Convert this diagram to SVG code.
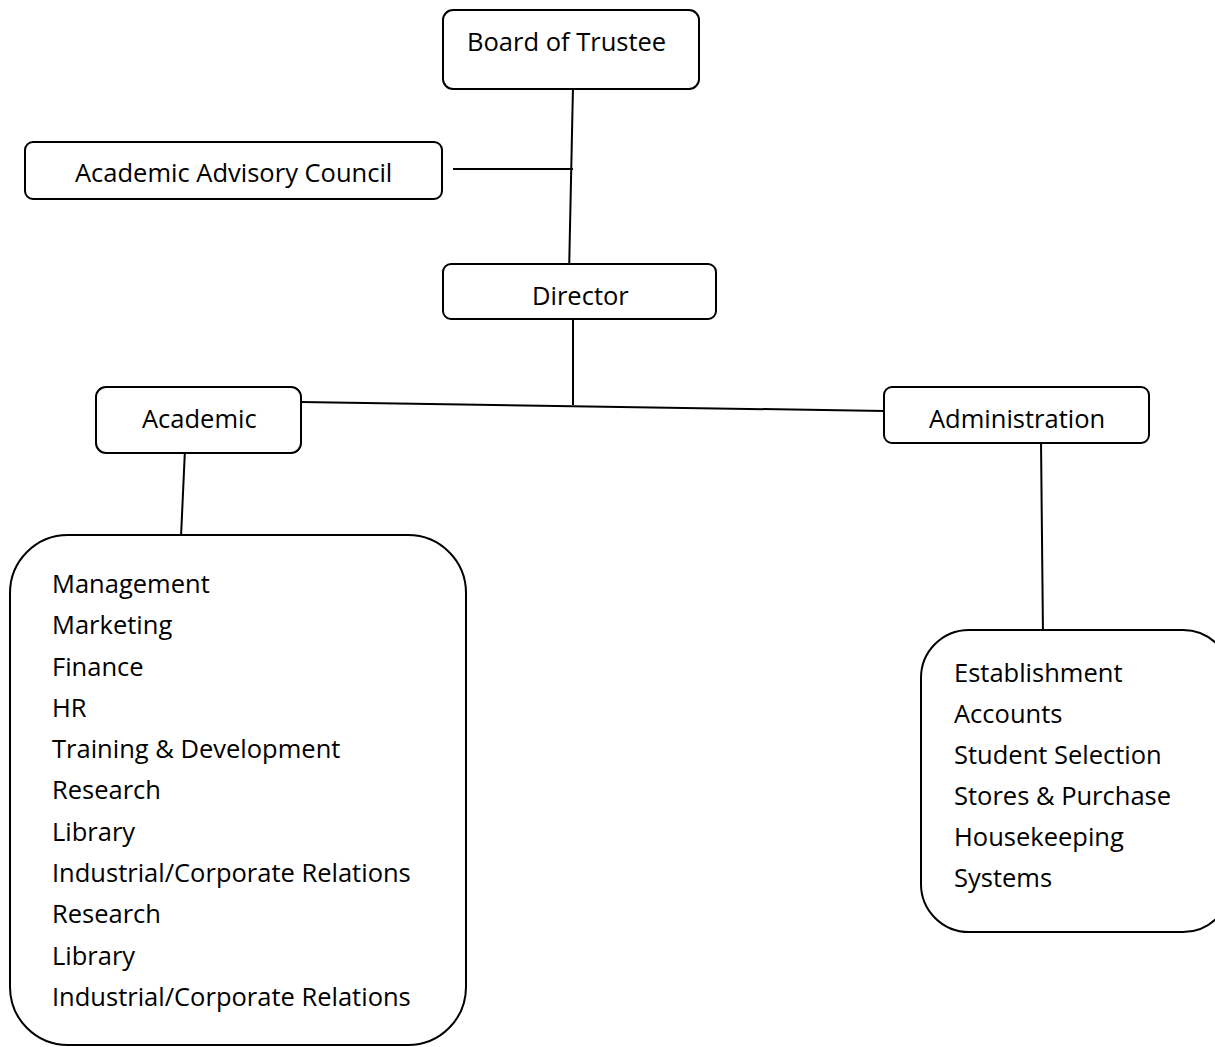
<svg xmlns="http://www.w3.org/2000/svg" width="1215" height="1047" viewBox="0 0 1215 1047">
<style>
.box{fill:#fff;stroke:#000;stroke-width:2}
.ln{stroke:#000;stroke-width:2;fill:none}
text{font-family:"Open Sans","Liberation Sans",sans-serif;font-size:25.5px;fill:#000}
</style>
<rect width="1215" height="1047" fill="#fff"/>
<g id="connectors">
<line class="ln" x1="573" y1="86" x2="569" y2="275"/>
<line class="ln" x1="453" y1="169" x2="573" y2="169"/>
<line class="ln" x1="573" y1="319" x2="573" y2="405"/>
<line class="ln" x1="301" y1="402" x2="885" y2="411"/>
<line class="ln" x1="185" y1="449" x2="181" y2="537"/>
<line class="ln" x1="1041" y1="441" x2="1043" y2="636"/>
</g>
<g id="board"><rect class="box" x="443" y="10" width="256" height="79" rx="10"/><text x="467" y="51">Board of Trustee</text></g>
<g id="council"><rect class="box" x="25" y="142" width="417" height="57" rx="8"/><text x="75" y="182">Academic Advisory Council</text></g>
<g id="director"><rect class="box" x="443" y="264" width="273" height="55" rx="8"/><text x="532" y="305">Director</text></g>
<g id="academic"><rect class="box" x="96" y="387" width="205" height="66" rx="10"/><text x="142" y="428">Academic</text></g>
<g id="administration"><rect class="box" x="884" y="387" width="265" height="56" rx="8"/><text x="929" y="428">Administration</text></g>
<g id="academic-list"><rect class="box" x="10" y="535" width="456" height="510" rx="58"/>
<text x="52" y="593">Management</text>
<text x="52" y="634">Marketing</text>
<text x="52" y="676">Finance</text>
<text x="52" y="717">HR</text>
<text x="52" y="758">Training &amp; Development</text>
<text x="52" y="799">Research</text>
<text x="52" y="841">Library</text>
<text x="52" y="882">Industrial/Corporate Relations</text>
<text x="52" y="923">Research</text>
<text x="52" y="965">Library</text>
<text x="52" y="1006">Industrial/Corporate Relations</text>
</g>
<g id="admin-list"><rect class="box" x="921" y="630" width="310" height="302" rx="48"/>
<text x="954" y="682">Establishment</text>
<text x="954" y="723">Accounts</text>
<text x="954" y="764">Student Selection</text>
<text x="954" y="805">Stores &amp; Purchase</text>
<text x="954" y="846">Housekeeping</text>
<text x="954" y="887">Systems</text>
</g>
</svg>
